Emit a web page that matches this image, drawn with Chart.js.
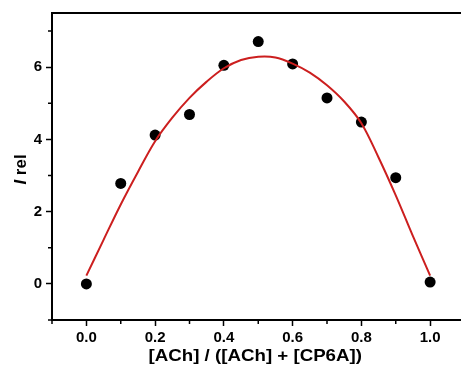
<!DOCTYPE html>
<html>
<head>
<meta charset="utf-8">
<script src="https://cdn.jsdelivr.net/npm/chart.js@4.4.1/dist/chart.umd.min.js"></script>
<style>
  html, body { margin: 0; padding: 0; background: #fff; overflow: hidden; }
  #chart { display: block; }
</style>
</head>
<body>
<canvas id="chart" width="470" height="369" style="width:470px;height:369px"></canvas>
<script>
// measured points
const ratio = [0.0, 0.1, 0.2, 0.3, 0.4, 0.5, 0.6, 0.7, 0.8, 0.9, 1.0];
const intensity = [0.0, 2.78, 4.12, 4.69, 6.05, 6.71, 6.09, 5.15, 4.48, 2.94, 0.05];

// fitted curve
const fitX = [0, 0.05, 0.1, 0.15, 0.2, 0.25, 0.3, 0.35, 0.4, 0.45, 0.5, 0.55, 0.6, 0.65, 0.7, 0.75, 0.8, 0.85, 0.9, 0.95, 1.0];
const fitY = [0.23, 1.22, 2.2, 3.1, 3.95, 4.6, 5.15, 5.6, 5.97, 6.2, 6.29, 6.27, 6.1, 5.85, 5.5, 5.05, 4.45, 3.5, 2.45, 1.32, 0.23];

// axis ticks
const xMajor = [0.0, 0.2, 0.4, 0.6, 0.8, 1.0];
const xMinor = [-0.1, 0.1, 0.3, 0.5, 0.7, 0.9];
const yMajor = [0, 2, 4, 6];
const yMinor = [-1, 1, 3, 5, 7];

const FONT = "'Liberation Sans', Arial, sans-serif";

const framePlugin = {
  id: 'frame',
  afterDraw(chart) {
    const ctx = chart.ctx;
    const a = chart.chartArea;
    const xs = chart.scales.x;
    const ys = chart.scales.y;
    ctx.save();
    ctx.strokeStyle = '#000';
    // top and right border
    ctx.lineWidth = 2;
    ctx.beginPath();
    ctx.moveTo(a.left, a.top);
    ctx.lineTo(a.right, a.top);
    ctx.lineTo(a.right, a.bottom);
    ctx.stroke();
    // minor ticks
    ctx.lineWidth = 1.5;
    ctx.beginPath();
    xMinor.forEach(v => {
      const px = xs.getPixelForValue(v);
      ctx.moveTo(px, a.bottom);
      ctx.lineTo(px, a.bottom + 4);
    });
    yMinor.forEach(v => {
      const py = ys.getPixelForValue(v);
      ctx.moveTo(a.left - 4, py);
      ctx.lineTo(a.left, py);
    });
    ctx.stroke();
    ctx.restore();

    // x title, slightly wide like the original
    ctx.save();
    ctx.fillStyle = '#000';
    ctx.textBaseline = 'middle';
    ctx.textAlign = 'center';
    ctx.font = 'bold 17px ' + FONT;
    ctx.translate((a.left + a.right) / 2 - 3, 356);
    ctx.scale(1.1, 1);
    ctx.fillText('[ACh] / ([ACh] + [CP6A])', 0, 0);
    ctx.restore();

    // y title: italic I + rel
    ctx.save();
    ctx.fillStyle = '#000';
    ctx.textBaseline = 'middle';
    ctx.translate(21, (a.top + a.bottom) / 2 + 3);
    ctx.rotate(-Math.PI / 2);
    ctx.font = 'italic bold 17px ' + FONT;
    const w1 = ctx.measureText('I').width;
    ctx.font = 'bold 17px ' + FONT;
    const w2 = ctx.measureText(' rel').width;
    ctx.textAlign = 'left';
    ctx.font = 'italic bold 17px ' + FONT;
    ctx.fillText('I', -(w1 + w2) / 2, 0);
    ctx.font = 'bold 17px ' + FONT;
    ctx.fillText(' rel', -(w1 + w2) / 2 + w1, 0);
    ctx.restore();
  }
};

new Chart(document.getElementById('chart'), {
  type: 'scatter',
  data: {
    datasets: [
      {
        label: 'data',
        data: ratio.map((x, i) => ({ x: x, y: intensity[i] })),
        backgroundColor: '#000',
        borderWidth: 0,
        pointRadius: 5.5,
        pointHoverRadius: 5.5,
        order: 2
      },
      {
        label: 'fit',
        data: fitX.map((x, i) => ({ x: x, y: fitY[i] })),
        showLine: true,
        borderColor: '#cc1f1f',
        borderWidth: 2,
        pointRadius: 0,
        tension: 0.35,
        fill: false,
        order: 1
      }
    ]
  },
  options: {
    responsive: false,
    animation: false,
    layout: { padding: { top: 13, right: 5, left: 0, bottom: 0 } },
    plugins: {
      legend: { display: false },
      tooltip: { enabled: false }
    },
    scales: {
      x: {
        type: 'linear',
        min: -0.1,
        max: 1.1,
        afterFit: s => { s.height = 49; },
        afterBuildTicks: s => { s.ticks = xMajor.map(v => ({ value: v })); },
        grid: { drawOnChartArea: false, drawTicks: true, tickLength: 6, tickColor: '#000', tickWidth: 1.5 },
        border: { color: '#000', width: 2 },
        ticks: {
          color: '#000',
          padding: 3,
          maxRotation: 0,
          font: { family: FONT, size: 15, weight: 'bold' },
          callback: v => Number(v).toFixed(1)
        }
      },
      y: {
        type: 'linear',
        min: -1,
        max: 7.5,
        afterFit: s => { s.width = 52; },
        afterBuildTicks: s => { s.ticks = yMajor.map(v => ({ value: v })); },
        grid: { drawOnChartArea: false, drawTicks: true, tickLength: 6, tickColor: '#000', tickWidth: 1.5 },
        border: { color: '#000', width: 2 },
        ticks: {
          color: '#000',
          padding: 4,
          font: { family: FONT, size: 15, weight: 'bold' },
          callback: v => String(v)
        }
      }
    }
  },
  plugins: [framePlugin]
});
</script>
</body>
</html>
